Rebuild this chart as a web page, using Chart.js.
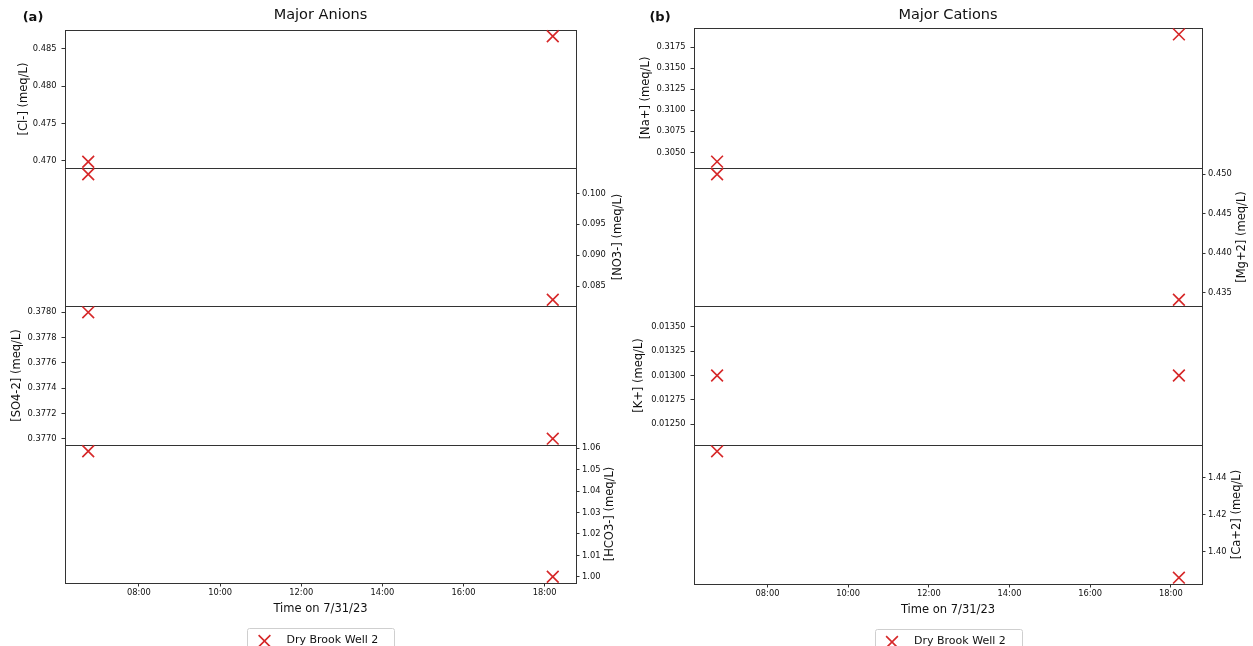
<!DOCTYPE html>
<html><head><meta charset="utf-8">
<script src="https://cdn.jsdelivr.net/npm/chart.js@4.4.1/dist/chart.umd.min.js"></script>
<style>
html,body{margin:0;padding:0;background:#fff;overflow:hidden;width:1253px;height:646px;position:relative;}
canvas{position:absolute;left:0;top:0;}
</style></head><body>
<script>
// ---------------- data ----------------
const sampleTimes = ['06:45', '18:12'];
const seriesName = 'Dry Brook Well 2';
const xTickLabels = ['08:00', '10:00', '12:00', '14:00', '16:00', '18:00'];
const xAxisTitle = 'Time on 7/31/23';
const panelTitles = ['Major Anions', 'Major Cations'];
const panelTags = ['(a)', '(b)'];

// anions (meq/L)
const clValues   = [0.4699, 0.4867];
const no3Values  = [0.1031, 0.0828];
const so4Values  = [0.3780, 0.3770];
const hco3Values = [1.0585, 1.0001];
// cations (meq/L)
const naValues = [0.3039, 0.3190];
const mgValues = [0.4500, 0.4341];
const kValues  = [0.0130, 0.0130];
const caValues = [1.4544, 1.3858];

// tick labels
const clTicks   = ['0.470', '0.475', '0.480', '0.485'];
const no3Ticks  = ['0.085', '0.090', '0.095', '0.100'];
const so4Ticks  = ['0.3770', '0.3772', '0.3774', '0.3776', '0.3778', '0.3780'];
const hco3Ticks = ['1.00', '1.01', '1.02', '1.03', '1.04', '1.05', '1.06'];
const naTicks   = ['0.3050', '0.3075', '0.3100', '0.3125', '0.3150', '0.3175'];
const mgTicks   = ['0.435', '0.440', '0.445', '0.450'];
const kTicks    = ['0.01250', '0.01275', '0.01300', '0.01325', '0.01350'];
const caTicks   = ['1.40', '1.42', '1.44'];

const axisLabels = ['[Cl-] (meq/L)', '[NO3-] (meq/L)', '[SO4-2] (meq/L)', '[HCO3-] (meq/L)',
                    '[Na+] (meq/L)', '[Mg+2] (meq/L)', '[K+] (meq/L)', '[Ca+2] (meq/L)'];

// ---------------- layout / style ----------------
const CW = 1253, CH = 680;
const FAMILY = "'DejaVu Sans', 'Liberation Sans', sans-serif";
const TICK_FONT = {family: FAMILY, size: 8.3};
const LAB_FONT = {family: FAMILY, size: 11.5};
const RED = '#d62728';
const FRAME = '#333333';

const panels = [
  {left: 65, right: 576, rows: [30, 168, 306, 445, 583], tagX: 33},
  {left: 694, right: 1202, rows: [28, 168, 306, 445, 584], tagX: 660}
];

const subplots = [
  {panel: 0, row: 0, values: clValues,   ticks: clTicks,   label: axisLabels[0], side: 'left',  titleX: 24},
  {panel: 0, row: 1, values: no3Values,  ticks: no3Ticks,  label: axisLabels[1], side: 'right', titleX: 618},
  {panel: 0, row: 2, values: so4Values,  ticks: so4Ticks,  label: axisLabels[2], side: 'left',  titleX: 17.5},
  {panel: 0, row: 3, values: hco3Values, ticks: hco3Ticks, label: axisLabels[3], side: 'right', titleX: 610},
  {panel: 1, row: 0, values: naValues,   ticks: naTicks,   label: axisLabels[4], side: 'left',  titleX: 646},
  {panel: 1, row: 1, values: mgValues,   ticks: mgTicks,   label: axisLabels[5], side: 'right', titleX: 1242},
  {panel: 1, row: 2, values: kValues,    ticks: kTicks,    label: axisLabels[6], side: 'left',  titleX: 639},
  {panel: 1, row: 3, values: caValues,   ticks: caTicks,   label: axisLabels[7], side: 'right', titleX: 1237.5}
];

function hours(s) { const p = s.split(':').map(Number); return p[0] + p[1] / 60; }
const xs = sampleTimes.map(hours);

function padRange(vals) {
  let lo = Math.min(...vals), hi = Math.max(...vals);
  if (hi - lo < 1e-12) { const d = 0.05 * Math.abs(lo) || 0.05; lo -= d; hi += d; }
  const m = (hi - lo) * 0.05;
  return [lo - m, hi + m];
}

function fontStr(f, weight) { return (weight ? weight + ' ' : '') + f.size + 'px ' + f.family; }

function makeChart(spec) {
  const p = panels[spec.panel];
  const canvas = document.createElement('canvas');
  canvas.width = CW; canvas.height = CH;
  document.body.appendChild(canvas);
  const top = p.rows[spec.row], bottom = p.rows[spec.row + 1];
  const isTop = spec.row === 0, isBottom = spec.row === 3;
  const side = spec.side;
  const lh = LAB_FONT.size * 1.2;
  const W = side === 'left' ? (p.left - spec.titleX + lh / 2) : 34;
  const XH = 44;
  const pad = {
    left: side === 'left' ? p.left - W : p.left,
    right: side === 'right' ? CW - p.right - W : CW - p.right,
    top: isTop ? 0 : top,
    bottom: isBottom ? CH - bottom - XH : CH - bottom
  };
  const [ymin, ymax] = padRange(spec.values);
  const [xmin, xmax] = padRange(xs);
  const titleLH = 14.5 * 1.2, titleCY = 15;
  const tickVals = spec.ticks.map(Number);
  const dec = spec.ticks[0].split('.')[1].length;

  const framePlugin = {
    id: 'frame',
    beforeDatasetsDraw(chart) {
      const a = chart.chartArea, ctx = chart.ctx;
      const l = Math.round(a.left), t = Math.round(a.top), r = Math.round(a.right), b = Math.round(a.bottom);
      ctx.save();
      ctx.strokeStyle = FRAME; ctx.lineWidth = 1;
      ctx.strokeRect(l + 0.5, t + 0.5, r - l, b - t);
      ctx.restore();
    }
  };
  const extrasPlugin = {
    id: 'extras',
    afterDraw(chart) {
      const a = chart.chartArea, ctx = chart.ctx;
      ctx.save();
      ctx.fillStyle = '#111';
      if (side === 'right') {
        ctx.translate(spec.titleX, (a.top + a.bottom) / 2);
        ctx.rotate(-Math.PI / 2);
        ctx.font = fontStr(LAB_FONT);
        ctx.textAlign = 'center'; ctx.textBaseline = 'middle';
        ctx.fillText(spec.label, 0, 0);
        ctx.setTransform(1, 0, 0, 1, 0, 0);
      }
      if (isTop) {
        ctx.font = fontStr({family: FAMILY, size: 13}, 'bold');
        ctx.textAlign = 'center'; ctx.textBaseline = 'middle';
        ctx.fillText(panelTags[spec.panel], p.tagX, 18);
      }
      if (isBottom) {
        const ds = chart.data.datasets[0];
        const cx = (a.left + a.right) / 2;
        const bw = 147, bt = a.bottom + 45, bh = 34;
        const bl = cx - bw / 2;
        ctx.fillStyle = '#fff'; ctx.strokeStyle = '#cfcfcf'; ctx.lineWidth = 1;
        ctx.beginPath();
        if (ctx.roundRect) ctx.roundRect(Math.round(bl) + 0.5, Math.round(bt) + 0.5, bw, bh, 2);
        else ctx.rect(Math.round(bl) + 0.5, Math.round(bt) + 0.5, bw, bh);
        ctx.fill(); ctx.stroke();
        ctx.strokeStyle = RED; ctx.fillStyle = RED; ctx.lineWidth = 1.6;
        Chart.helpers.drawPoint(ctx, {pointStyle: 'crossRot', radius: 8.3, borderWidth: 1.6, rotation: 0}, bl + 17.5, bt + 13);
        ctx.fillStyle = '#111';
        ctx.font = fontStr({family: FAMILY, size: 11});
        ctx.textAlign = 'left'; ctx.textBaseline = 'middle';
        ctx.fillText(ds.label, bl + 39.5, bt + 12.5);
      }
      ctx.restore();
    }
  };

  return new Chart(canvas, {
    type: 'scatter',
    data: {
      datasets: [{
        label: seriesName,
        data: xs.map((x, i) => ({x: x, y: spec.values[i]})),
        pointStyle: 'crossRot',
        pointRadius: 8.3,
        pointHoverRadius: 8.3,
        borderColor: RED,
        backgroundColor: RED,
        borderWidth: 1.6,
        pointBorderWidth: 1.6,
        showLine: false,
        clip: false
      }]
    },
    options: {
      responsive: false,
      animation: false,
      devicePixelRatio: 1,
      events: [],
      layout: {padding: pad},
      scales: {
        x: {
          type: 'linear', min: xmin, max: xmax, bounds: 'data',
          display: isBottom,
          afterBuildTicks: s => { s.ticks = xTickLabels.map(t => ({value: hours(t)})); },
          afterFit: s => { s.height = isBottom ? XH : 0; },
          ticks: {callback: (v, i) => xTickLabels[i], font: TICK_FONT, color: '#111', padding: 1.5, maxRotation: 0, autoSkip: false},
          grid: {display: true, drawOnChartArea: false, drawTicks: true, tickLength: 3.5, color: FRAME},
          border: {display: false},
          title: {display: true, text: xAxisTitle, font: LAB_FONT, color: '#111', padding: {top: 0, bottom: 11}}
        },
        y: {
          type: 'linear', position: side, min: ymin, max: ymax, bounds: 'data',
          afterBuildTicks: s => { s.ticks = tickVals.map(v => ({value: v})); },
          afterFit: s => { s.width = W; },
          ticks: {callback: v => v.toFixed(dec), font: TICK_FONT, color: '#111', padding: side === 'left' ? 5 : 2.5, autoSkip: false},
          grid: {display: true, drawOnChartArea: false, drawTicks: true, tickLength: 3.5, color: FRAME},
          border: {display: false},
          title: {display: side === 'left', text: spec.label, font: LAB_FONT, color: '#111', padding: 0}
        }
      },
      plugins: {
        legend: {display: false},
        tooltip: {enabled: false},
        title: {
          display: isTop,
          text: panelTitles[spec.panel],
          fullSize: false,
          font: {family: FAMILY, size: 14.5, weight: 'normal'},
          color: '#111',
          padding: {top: titleCY - titleLH / 2, bottom: top - titleCY - titleLH / 2}
        }
      }
    },
    plugins: [framePlugin, extrasPlugin]
  });
}

subplots.forEach(makeChart);
</script>
</body></html>
